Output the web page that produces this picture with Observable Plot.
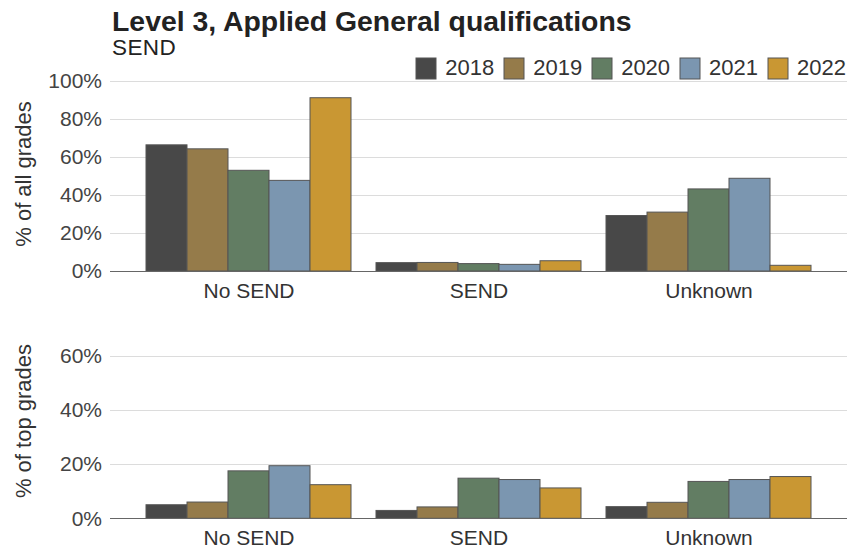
<!DOCTYPE html>
<html><head><meta charset="utf-8">
<script src="https://cdn.jsdelivr.net/npm/d3@7"></script>
<script src="https://cdn.jsdelivr.net/npm/@observablehq/plot@0.6"></script>
<style>
body{margin:0;background:#fff;font-family:"Liberation Sans",Arial,sans-serif;}
#wrap{position:relative;width:850px;height:549px;overflow:hidden;background:#fff;}
.abs{position:absolute;white-space:nowrap;line-height:1;}
#title{left:112px;top:7px;font-size:28.4px;font-weight:bold;color:#222;}
#subtitle{left:112px;top:37.4px;font-size:22.5px;letter-spacing:0.4px;color:#222;}
.ytitle{font-size:22px;color:#333;transform:translate(-50%,-50%) rotate(-90deg);}
#legend{right:4px;top:57px;}
#legend .leg-swatches{margin:0 !important;min-height:0 !important;font-size:22px !important;font-family:"Liberation Sans",Arial,sans-serif !important;color:#333 !important;}
#legend .leg-swatch{margin-right:9.5px !important;}
#legend .leg-swatch:last-child{margin-right:0 !important;}
#legend .leg-swatch > svg{margin-right:9.5px !important;}
#legend .leg-swatch rect{stroke:#555;stroke-width:1px;}
#top{position:absolute;left:0;top:70px;}
#bottom{position:absolute;left:0;top:320px;}
</style></head><body><div id="wrap">
<div class="abs" id="title">Level 3, Applied General qualifications</div>
<div class="abs" id="subtitle">SEND</div>
<div class="abs" id="legend"></div>
<div class="abs ytitle" style="left:24px;top:174px;">% of all grades</div>
<div class="abs ytitle" style="left:24px;top:421px;">% of top grades</div>
<div id="top"></div>
<div id="bottom"></div>
</div>
<script>
const categories = ["No SEND", "SEND", "Unknown"];
const years = ["2018", "2019", "2020", "2021", "2022"];
const colors = ["#484848", "#957b4a", "#627d63", "#7b96b0", "#c99733"];

// % of all grades, by category, values for 2018..2022
const allNoSEND = [66.4, 64.3, 53.0, 47.7, 91.2];
const allSEND = [4.4, 4.5, 3.9, 3.5, 5.4];
const allUnknown = [29.2, 31.0, 43.2, 48.8, 3.0];

// % of top grades, by category, values for 2018..2022
const topNoSEND = [5.0, 6.0, 17.5, 19.4, 12.4];
const topSEND = [2.9, 4.2, 14.8, 14.3, 11.2];
const topUnknown = [4.3, 5.9, 13.6, 14.3, 15.4];

const allTicks = [0, 20, 40, 60, 80, 100];
const topTicks = [0, 20, 40, 60];

function toRows(series) {
  const rows = [];
  categories.forEach((c, i) => years.forEach((y, j) => rows.push({category: c, year: y, value: series[i][j]})));
  return rows;
}

const allRows = toRows([allNoSEND, allSEND, allUnknown]);
const topRows = toRows([topNoSEND, topSEND, topUnknown]);

const font = '"Liberation Sans", Arial, sans-serif';

function chart(rows, ticks, domain, height, marginTop, marginBottom) {
  return Plot.plot({
    width: 850,
    height,
    marginLeft: 110,
    marginRight: 3,
    marginTop,
    marginBottom,
    style: {fontFamily: font, fontSize: "21px", background: "transparent", overflow: "visible"},
    fx: {domain: categories, paddingInner: 0.1, paddingOuter: 0.15},
    x: {domain: years, padding: 0, axis: null},
    y: {domain},
    color: {domain: years, range: colors},
    marks: [
      Plot.ruleY(ticks.filter(t => t > 0), {stroke: "#dcdcdc", strokeWidth: 1.2, insetLeft: -35, insetRight: -35, shapeRendering: "crispEdges"}),
      Plot.barY(rows, {fx: "category", x: "year", y: "value", fill: "year", stroke: "#555", strokeWidth: 1}),
      Plot.ruleY([0], {stroke: "#666", strokeWidth: 1.2, insetLeft: -35, insetRight: -35, shapeRendering: "crispEdges"}),
      Plot.axisY({anchor: "left", ticks, tickFormat: d => d + "%", tickSize: 0, tickPadding: 43.5, label: null, fontSize: 21, fill: "#444"}),
      Plot.axisFx({anchor: "bottom", tickSize: 0, tickPadding: 11.5, label: null, fontSize: 21, fill: "#333"})
    ]
  });
}

document.getElementById("top").append(chart(allRows, allTicks, [0, 100], 236, 11, 35));
document.getElementById("bottom").append(chart(topRows, topTicks, [0, 66.5], 229, 18, 30.7));

document.getElementById("legend").append(Plot.legend({
  color: {domain: years, range: colors},
  legend: "swatches",
  swatchWidth: 20,
  swatchHeight: 21,
  className: "leg"
}));
</script>
</body></html>
